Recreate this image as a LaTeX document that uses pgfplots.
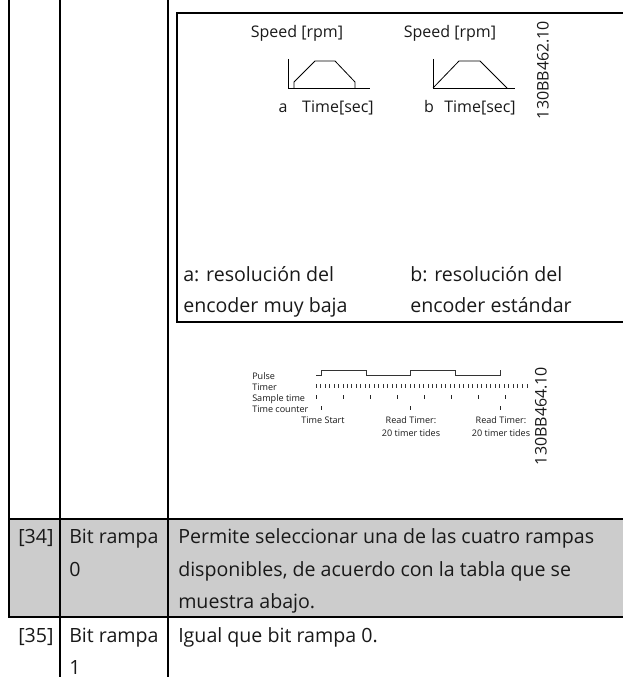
\documentclass[border=0pt]{standalone}
\usepackage{pgfplots}
\pgfplotsset{compat=1.18}
\usepackage{fontspec}
\setmainfont{Open Sans}
\newcommand{\nd}[4][base]{\node[anchor=#1,inner sep=0pt,text=black!90] at (axis cs:#2,#3) {#4};}
\newcommand{\fbig}{\fontsize{14.7}{16}\selectfont}
\newcommand{\fmid}{\fontsize{12}{14}\selectfont}
\newcommand{\fsml}{\fontsize{6.8}{8}\selectfont}
\begin{document}
\begin{tikzpicture}[x=1pt,y=1pt]
\path (0,0) rectangle (467.25pt,507.75pt);
\begin{axis}[
  at={(0,0)},anchor=south west,
  width=467.25pt,height=507.75pt,scale only axis,
  xmin=0,xmax=623,ymin=0,ymax=677,y dir=reverse,
  hide axis,clip=true]
% gray row
\addplot[draw=none,fill=black!20] coordinates {(9,519)(623,519)(623,617)(9,617)} -- cycle;
% table rules
\addplot[black,line width=1.4pt] coordinates {(9,0)(9,617)};
\addplot[black,line width=1.4pt] coordinates {(60,0)(60,677)};
\addplot[black,line width=1.4pt] coordinates {(168,0)(168,677)};
\addplot[black,line width=1.4pt] coordinates {(8,519)(623,519)};
\addplot[black,line width=1.4pt] coordinates {(8,617)(623,617)};
% box
\addplot[black,line width=1pt] coordinates {(623,13)(177,13)(177,322)(623,322)};
% ramp a
\addplot[black,line width=0.6pt] coordinates {(288,59)(288,88)(370,88)};
\addplot[black,line width=0.6pt] coordinates {(294,88)(294,82)(315,61)(335,61)(355,82)(355,88)};
% ramp b
\addplot[black,line width=0.6pt] coordinates {(433,59)(433,88)(515,88)};
\addplot[black,line width=0.6pt] coordinates {(433,88)(459,61)(480,61)(507,88)};
% pulse
\addplot[black!80,line width=0.65pt] coordinates {(316,375)(321,375)(321,370)(366,370)(366,375)(410,375)(410,370)(455,370)(455,375)(500,375)(500,370)};
% sample
\addplot[black!85,line width=0.6pt,only marks,mark=|,mark size=1.5pt] coordinates {(316,397)(343,397)(370,397)(397,397)(424,397)(451,397)(478,397)(505,397)};
\addplot[black!85,line width=0.6pt,only marks,mark=|,mark size=1.5pt] coordinates {(321,408)(410,408)(500,408)};
\addplot[black!80,line width=0.55pt,only marks,mark=|,mark size=1.4pt] coordinates {(316,386)(320.5,386)(325,386)(329.4,386)(333.9,386)(338.4,386)(342.9,386)(347.3,386)(351.8,386)(356.3,386)(360.8,386)(365.2,386)(369.7,386)(374.2,386)(378.7,386)(383.1,386)(387.6,386)(392.1,386)(396.6,386)(401,386)(405.5,386)(410,386)(414.5,386)(418.9,386)(423.4,386)(427.9,386)(432.4,386)(436.8,386)(441.3,386)(445.8,386)(450.3,386)(454.7,386)(459.2,386)(463.7,386)(468.2,386)(472.6,386)(477.1,386)(481.6,386)(486.1,386)(490.5,386)(495,386)(499.5,386)(504,386)(508.4,386)(512.9,386)(517.4,386)(521.9,386)(527,386)};
% ramp text
\nd{297}{38}{\fmid Speed [rpm]}
\nd{450}{38}{\fmid Speed [rpm]}
\nd{283}{113}{\fmid a}
\nd{338}{113}{\fmid Time[sec]}
\nd{429}{113}{\fmid b}
\nd{480}{113}{\fmid Time[sec]}
\node[rotate=90,inner sep=0pt,text=black!90] at (axis cs:543,70) {\fontsize{12}{14}\selectfont 130BB462.10};
\node[rotate=90,inner sep=0pt,text=black!90] at (axis cs:541,416) {\fontsize{12}{14}\selectfont 130BB464.10};
% timing text
\nd[base west]{252}{379}{\fsml Pulse}
\nd[base west]{252}{390}{\fsml Timer}
\nd[base west]{252}{401}{\fsml Sample time}
\nd[base west]{252}{412}{\fsml Time counter}
\nd{323}{423}{\fsml Time Start}
\nd{411}{423}{\fsml Read Timer:}
\nd{411}{436}{\fsml 20 timer tides}
\nd{501}{423}{\fsml Read Timer:}
\nd{501}{436}{\fsml 20 timer tides}
% box captions
\nd[base west]{183}{281}{\fbig a: resolución del}
\nd[base west]{183}{312}{\fbig encoder muy baja}
\nd[base west]{410}{281}{\fbig b: resolución del}
\nd[base west]{410}{312}{\fbig encoder estándar}
% table text
\nd[base west]{18}{543}{\fbig [34]}
\nd[base west]{69}{543}{\fbig Bit rampa}
\nd[base west]{69}{576}{\fbig 0}
\nd[base west]{18}{642}{\fbig [35]}
\nd[base west]{69}{642}{\fbig Bit rampa}
\nd[base west]{69}{674}{\fbig 1}
\nd[base west]{178}{543}{\fbig Permite seleccionar una de las cuatro rampas}
\nd[base west]{178}{576}{\fbig disponibles, de acuerdo con la tabla que se}
\nd[base west]{178}{608}{\fbig muestra abajo.}
\nd[base west]{178}{642}{\fbig Igual que bit rampa 0.}
\end{axis}
\end{tikzpicture}
\end{document}
